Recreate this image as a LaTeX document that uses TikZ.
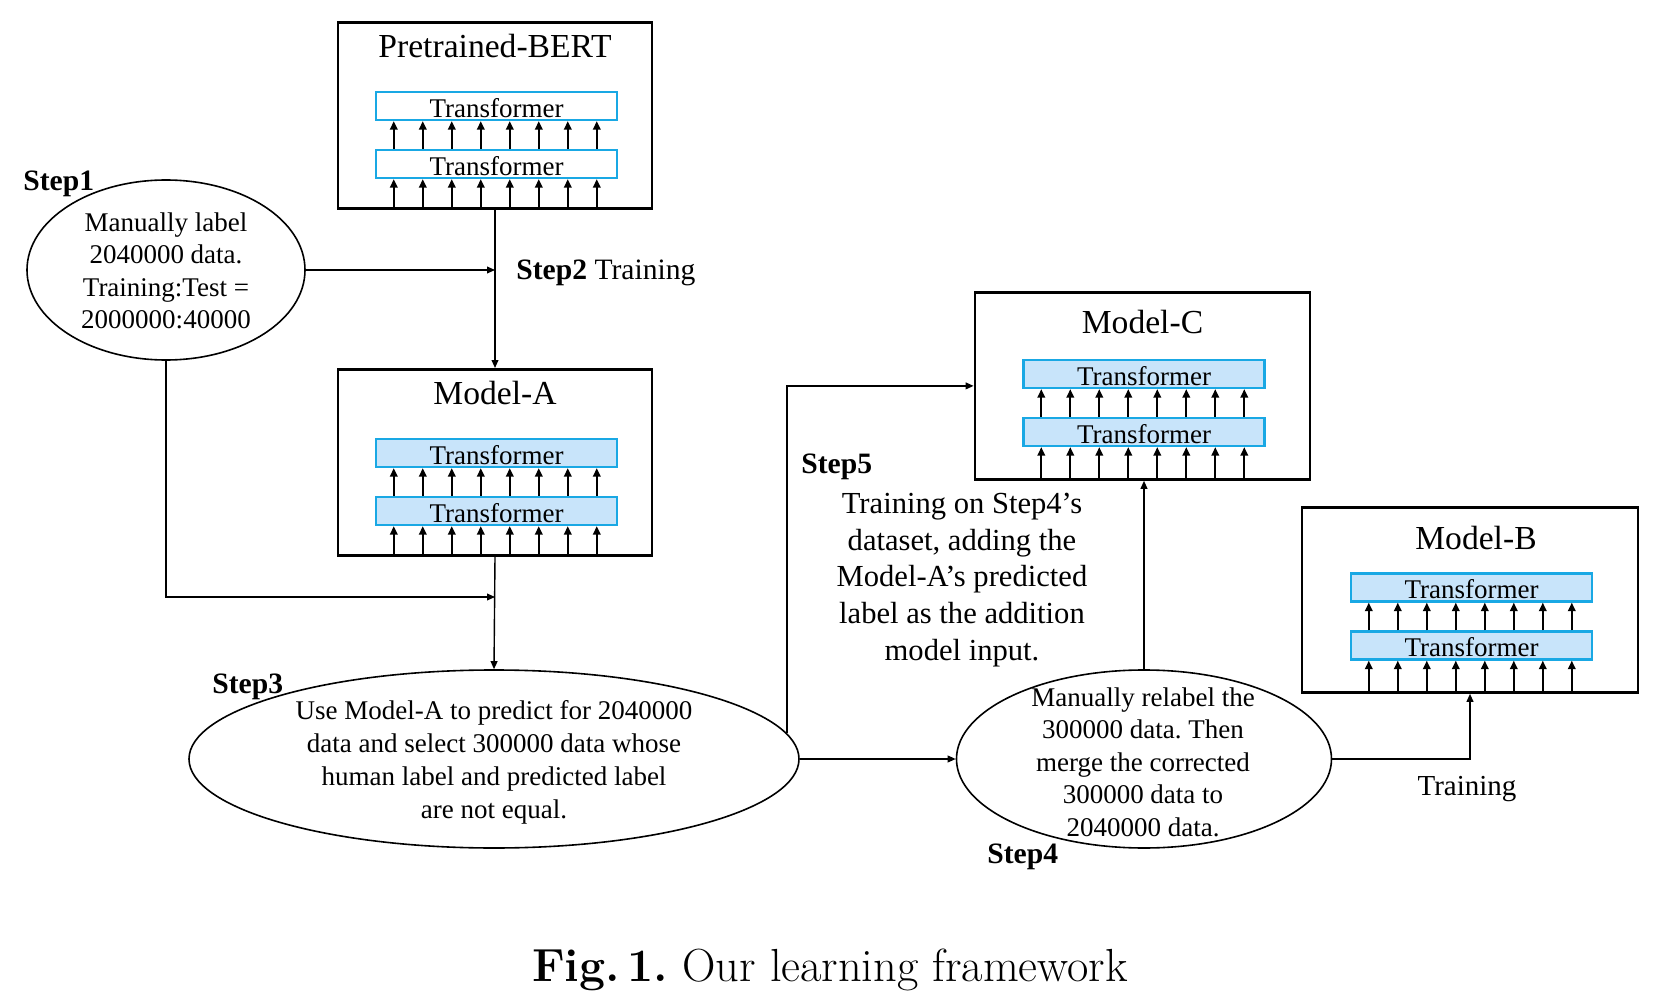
\documentclass[tikz,border=0pt]{standalone}
\usepackage{fontspec}
\newfontfamily\tnr{Liberation Serif}
\usetikzlibrary{shapes.geometric,arrows.meta}
\definecolor{tborder}{RGB}{25,168,228}
\definecolor{tfill}{RGB}{200,228,250}
\frenchspacing
\tikzset{
 box/.style={draw, line width=1.4pt, inner sep=0pt, anchor=north},
 tbox/.style={draw=tborder, line width=1.2pt, minimum width=120.5pt, minimum height=14pt, inner sep=0pt, text height=11.3pt, text depth=0pt, font=\tnr\fontsize{13.5}{14}\selectfont},
 uparr/.style={-{Triangle[length=4.2pt,width=3.8pt]}, line width=0.9pt},
 conn/.style={line width=0.7pt},
 connarr/.style={conn, -{Triangle[length=4pt,width=3.4pt]}},
 oval/.style={draw, ellipse, line width=0.8pt, inner sep=0pt},
 body/.style={font=\tnr\fontsize{13.5}{16.2}\selectfont, align=center, inner sep=0pt},
 steplbl/.style={font=\tnr\bfseries\fontsize{14.8}{16}\selectfont, anchor=west, inner sep=0pt},
 mtitle/.style={font=\tnr\fontsize{16.8}{18}\selectfont, inner sep=0pt},
}
\def\tdy{0}
% name, cx, ytop, w, h, title, title x offset, title y offset, fill
\newcommand\modelblk[9]{%
 \node[box, minimum width={#4*0.5pt}, minimum height={#5*0.5pt}] (#1) at (#2,#3) {};
 \node[mtitle] (#1-title) at (#2+#7,#3+#8) {#6};
 \node[tbox, fill=#9] (#1-t1) at (#2+1.5,#3+85+\tdy) {Transformer};
 \node[tbox, fill=#9] (#1-t2) at (#2+1.5,#3+143+\tdy) {Transformer};
 \foreach \k in {0,...,7} {
   \coordinate (#1-a\k) at ([xshift={\k*14.5pt+9.5pt}]#1-t2.south west);
   \draw[uparr] (#1-a\k |- #1.south) -- (#1-a\k);
   \draw[uparr] (#1-a\k |- #1-t2.north) -- (#1-a\k |- #1-t1.south);
 }
}
\begin{document}
\begin{tikzpicture}[x=0.5pt,y=-0.5pt]
\useasboundingbox (0,0) rectangle (1662,1006);
\fill[white] (0,0) rectangle (1662,1006);

\modelblk{bert}{495}{21}{314}{186}{Pretrained-BERT}{0}{25}{white}
\modelblk{ma}{495}{368}{314}{186}{Model-A}{0}{25}{tfill}
\def\tdy{-2}
\modelblk{mc}{1142.5}{291}{335}{187}{Model-C}{0}{31}{tfill}
\def\tdy{-3.5}
\modelblk{mb}{1470}{506}{336}{185}{Model-B}{6}{32}{tfill}

% ellipses
\node[oval, minimum width=139pt, minimum height=90pt] (s1) at (166,270) {};
\node[body] (s1txt) at (166,271) {Manually label\\2040000 data.\\Training:Test =\\2000000:40000};
\node[oval, minimum width=305pt, minimum height=89pt] (s3) at (494,759) {};
\node[body, font=\tnr\fontsize{13.5}{16.5}\selectfont] (s3txt) at (494,762) {Use Model-A to predict for 2040000\\data and select 300000 data whose\\human label and predicted label\\are not equal.};
\node[oval, minimum width=187.5pt, minimum height=89pt] (s4) at (1144,759) {};
\node[body, font=\tnr\fontsize{13.5}{16.25}\selectfont] (s4txt) at (1143,762) {Manually relabel the\\300000 data. Then\\merge the corrected\\300000 data to\\2040000 data.};
\node[body, font=\tnr\fontsize{15.3}{18.3}\selectfont] (s5txt) at (962,580) {Training on Step4’s\\dataset, adding the\\Model-A’s predicted\\label as the addition\\model input.};

% step labels
\node[steplbl] (l1) at (23,184) {Step1};
\node[steplbl] (l2) at (516,273) {Step2 \mdseries Training};
\node[steplbl] (l3) at (212,687) {Step3};
\node[steplbl] (l4) at (987,857) {Step4};
\node[steplbl] (l5) at (801,467) {Step5};
\node[font=\tnr\fontsize{14.5}{16}\selectfont, inner sep=0pt] (ltr) at (1467,789) {Training};

% connectors
\draw[connarr] (bert.south) -- (ma.north);
\draw[connarr] (s1.east) -- (s1.east -| bert.south);
\coordinate (j1) at (166,597);
\draw[connarr] (s1.south) -- (j1) -- (j1 -| ma.south);
\draw[connarr] (ma.south) -- (s3.north);
\draw[connarr] (s3.east) -- (s4.west);
\draw[connarr] (s3.5.4) |- (mc.west);
\draw[connarr] (s4.north) -- (s4.north |- mc.south);
\draw[connarr] (s4.east) -| (mb.south);

% caption
\node[font=\fontsize{23.2}{27}\selectfont, inner sep=0pt] (cap) at (830,970) {\textbf{Fig.\,1.} Our learning framework};
\end{tikzpicture}
\end{document}
